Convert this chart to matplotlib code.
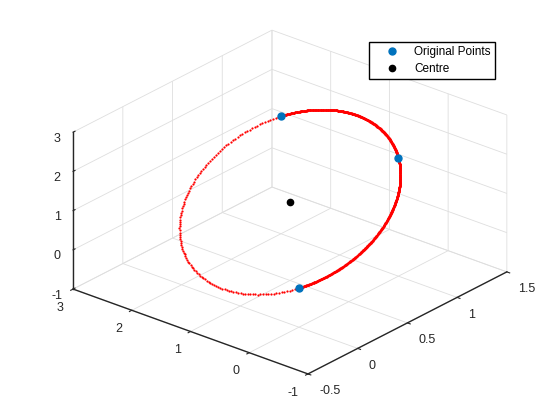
import numpy as np
import matplotlib
matplotlib.use("Agg")
import matplotlib.pyplot as plt
from matplotlib.lines import Line2D

# three points on the circle and its centre
px = [1, 1, 0]
py = [2, 0, 0]
pz = [2, 2, 0]
centre = [0.5, 1.0, 1.0]

xticks = [-0.5, 0, 0.5, 1, 1.5]
yticks = [-1, 0, 1, 2, 3]
zticks = [-1, 0, 1, 2, 3]
xlabels = ["-0.5", "0", "0.5", "1", "1.5"]
ylabels = ["-1", "0", "1", "2", "3"]
zlabels = ["-1", "0", "1", "2", "3"]

plt.rcParams['font.family'] = ['Liberation Sans', 'DejaVu Sans']
plt.rcParams['grid.color'] = '#dedede'
plt.rcParams['grid.linewidth'] = 0.6

# circle through the points
pts = np.column_stack([px, py, pz]).astype(float)
c = np.array(centre)
u = pts[0] - c
r = np.linalg.norm(u)
u = u / r
w = pts[1] - c
v = w - np.dot(w, u) * u
v = v / np.linalg.norm(v)


def ring(t):
    return c[:, None] + r * (np.outer(u, np.cos(t)) + np.outer(v, np.sin(t)))


full = ring(np.linspace(0, 2 * np.pi, 260))
arc = ring(np.linspace(0, np.pi, 800))

fig = plt.figure(figsize=(5.6, 4.2), dpi=100)
ax = fig.add_axes([74.3 / 560, 2.3 / 420, 420 / 560, 1.0], projection='3d', computed_zorder=False)
ax.set_proj_type('ortho')
ax.view_init(elev=25.5, azim=-140)
ax.set_box_aspect((309.5, 306.7, 173.9), zoom=1.084)

ax.plot(full[0], full[1], full[2], 'o', color='red', ms=1.6, mew=0, zorder=1)
ax.plot(arc[0], arc[1], arc[2], 'o', color='red', ms=1.6, mew=0, zorder=2)
ax.plot(px, py, pz, 'o', color='#0072BD', ms=5, zorder=3)
ax.plot([centre[0]], [centre[1]], [centre[2]], 'o', color='black', ms=4.5, zorder=4)

ax.set_xlim(-0.5, 1.5)
ax.set_ylim(-1, 3)
ax.set_zlim(-1, 3)
ax.set_xticks(xticks)
ax.set_yticks(yticks)
ax.set_zticks(zticks)
ax.set_xticklabels(xlabels, ha='left')
ax.set_yticklabels(ylabels, ha='right')
ax.set_zticklabels(zlabels)
ax.tick_params(labelsize=9, colors='#262626')
ax.xaxis.set_tick_params(pad=-0.6)
ax.yaxis.set_tick_params(pad=-0.3)
ax.zaxis.set_tick_params(pad=-2.2)

for axis in (ax.xaxis, ax.yaxis, ax.zaxis):
    axis.set_pane_color((1, 1, 1, 0))
    axis.pane.set_edgecolor('#dedede')
    axis.line.set_color('#262626')
    axis.line.set_linewidth(1.0)
    axis._axinfo['tick']['inward_factor'] = 0.15
    axis._axinfo['tick']['outward_factor'] = 0.0
    axis._axinfo['tick']['linewidth'] = {True: 0.8, False: 0.5}
ax.zaxis._axinfo['tick']['inward_factor'] = 0.0
ax.zaxis._axinfo['tick']['outward_factor'] = 0.12

handles = [Line2D([], [], ls='none', marker='o', color='#0072BD', ms=5),
           Line2D([], [], ls='none', marker='o', color='black', ms=4.5)]
fig.legend(handles, ["Original Points", "Centre"], loc='upper right',
           bbox_to_anchor=(495 / 560, 1 - 42 / 420), fontsize=8.5, fancybox=False,
           edgecolor='black', framealpha=1, handlelength=3.2, handletextpad=0.34,
           labelspacing=0.42, borderpad=0.34, borderaxespad=0)

fig.savefig("out.png", dpi=100)
